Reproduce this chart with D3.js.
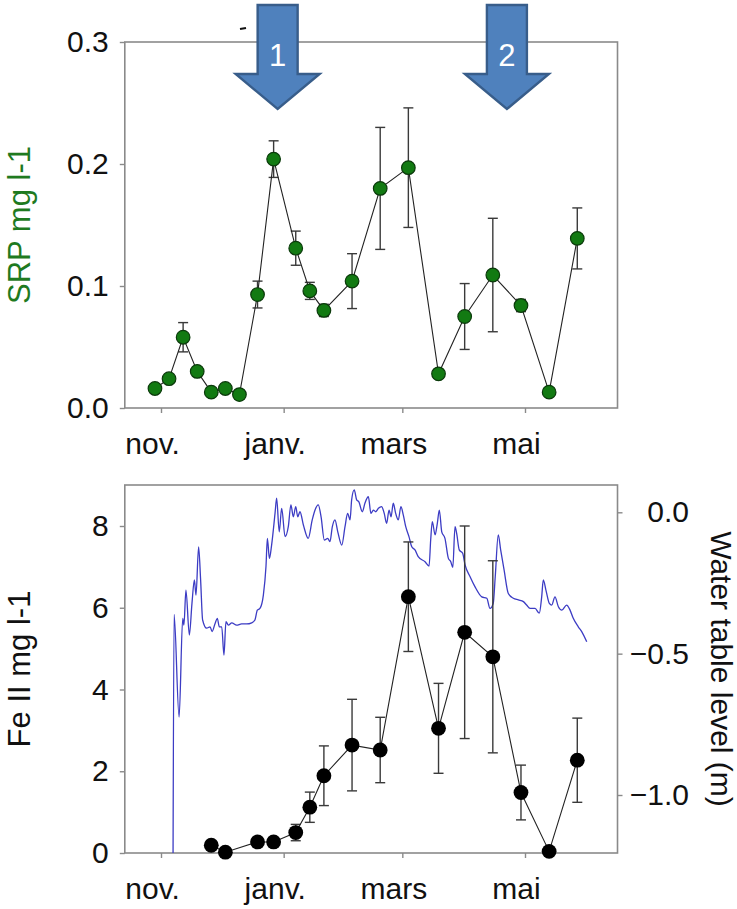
<!DOCTYPE html>
<html>
<head>
<meta charset="utf-8">
<script src="https://cdn.jsdelivr.net/npm/d3@7"></script>
<style>
  body { margin: 0; background: #fff; }
  #chart text { font-family: "Liberation Sans", Arial, sans-serif; }
</style>
</head>
<body>
<div id="chart"></div>
<script>
// SRP (top panel)
const srpDates = ['2010-10-29', '2010-11-05', '2010-11-12', '2010-11-19', '2010-11-26', '2010-12-03',
  '2010-12-10', '2010-12-19', '2010-12-27', '2011-01-07', '2011-01-14', '2011-01-21', '2011-02-04',
  '2011-02-18', '2011-03-04', '2011-03-19', '2011-04-01', '2011-04-15', '2011-04-29', '2011-05-13',
  '2011-05-27'];
const srpValues = [0.016, 0.024, 0.058, 0.030, 0.013, 0.016, 0.011, 0.093, 0.204, 0.131, 0.096,
  0.080, 0.104, 0.180, 0.197, 0.028, 0.075, 0.109, 0.084, 0.013, 0.139];
const srpErrors = [0.002, 0.003, 0.012, 0.003, 0.002, 0.003, 0.002, 0.011, 0.015, 0.014, 0.007,
  0.005, 0.0225, 0.050, 0.049, 0.002, 0.027, 0.0465, 0.005, 0.002, 0.025];

// Fe II (bottom panel)
const feDates = ['2010-11-26', '2010-12-03', '2010-12-19', '2010-12-27', '2011-01-07', '2011-01-14',
  '2011-01-21', '2011-02-04', '2011-02-18', '2011-03-04', '2011-03-19', '2011-04-01', '2011-04-15',
  '2011-04-29', '2011-05-13', '2011-05-27'];
const feValues = [0.19, 0.02, 0.27, 0.27, 0.50, 1.12, 1.89, 2.64, 2.52, 6.27, 3.05, 5.40, 4.80,
  1.48, 0.04, 2.27];
const feErrors = [0.05, 0.05, 0.05, 0.05, 0.20, 0.37, 0.73, 1.12, 0.80, 1.34, 1.10, 2.60, 2.35,
  0.67, 0.05, 1.03];

// water table level (m), days counted from 1 Nov 2010
const waterDays = [6.0, 6.5, 9.0, 10.8, 11.4, 12.4, 14.1, 15.4, 16.6, 17.4, 18.7, 19.7, 20.7, 22.7,
  24.4, 25.4, 26.9, 28.0, 29.0, 30.2, 31.3, 32.3, 33.5, 35.2, 37.6, 40.1, 42.6, 45.1, 46.7, 47.9,
  49.2, 50.9, 52.2, 52.9, 53.9, 55.0, 56.7, 57.5, 58.8, 60.0, 61.7, 63.3, 64.6, 65.8, 67.0, 68.0,
  69.1, 70.8, 73.2, 75.2, 76.6, 78.2, 79.6, 81.2, 82.9, 84.0, 85.2, 86.5, 87.9, 89.9, 91.5, 92.8,
  94.0, 94.8, 96.1, 97.3, 98.4, 100.1, 101.4, 103.1, 104.4, 105.6, 106.8, 108.1, 109.7, 111.0,
  112.2, 113.4, 114.4, 115.5, 116.7, 118.0, 119.3, 120.5, 121.7, 123.3, 124.7, 126.3, 127.9,
  131.3, 133.3, 134.1, 134.9, 136.3, 137.4, 138.4, 139.6, 141.2, 142.9, 144.1, 145.1, 146.2,
  147.0, 148.3, 150.0, 151.2, 153.7, 156.1, 159.5, 162.0, 163.6, 165.2, 166.2, 167.7, 168.9,
  170.6, 172.7, 175.2, 177.7, 180.2, 181.8, 183.5, 186.0, 188.1, 189.3, 190.1, 191.4, 193.1,
  194.3, 195.9, 197.6, 199.3, 201.7, 203.4, 205.0, 207.5, 209.2, 211.7];
const waterLevels = [-1.21, -0.361, -0.724, -0.375, -0.399, -0.275, -0.434, -0.322, -0.239, -0.293,
  -0.122, -0.239, -0.381, -0.410, -0.405, -0.422, -0.393, -0.375, -0.405, -0.405, -0.505, -0.387,
  -0.399, -0.391, -0.399, -0.395, -0.395, -0.391, -0.381, -0.346, -0.340, -0.293, -0.192, -0.092,
  -0.163, -0.116, -0.004, 0.050, -0.069, 0.014, -0.086, -0.051, 0.026, -0.016, 0.020, -0.016,
  0.002, -0.045, -0.092, -0.027, 0.008, 0.026, -0.016, -0.098, -0.092, -0.104, -0.051, -0.027,
  -0.069, -0.116, -0.051, -0.004, -0.027, 0.044, 0.079, 0.044, 0.037, 0.002, 0.032, 0.055,
  -0.004, 0.008, 0.002, 0.014, 0.020, -0.004, -0.039, 0.008, -0.016, 0.032, -0.004, -0.027,
  0.020, -0.010, -0.051, -0.086, -0.122, -0.133, -0.157, -0.175, -0.190, -0.098, -0.033, -0.080,
  -0.039, 0.008, -0.069, -0.092, -0.163, -0.175, -0.195, -0.051, -0.074, -0.133, -0.145, -0.186,
  -0.228, -0.263, -0.299, -0.304, -0.340, -0.322, -0.228, -0.080, -0.133, -0.204, -0.287, -0.304,
  -0.310, -0.316, -0.328, -0.340, -0.340, -0.357, -0.299, -0.239, -0.275, -0.322, -0.328, -0.299,
  -0.334, -0.346, -0.328, -0.346, -0.375, -0.405, -0.422, -0.458];

// axes
const monthTicks = ['2010-11-01', '2011-01-01', '2011-03-01', '2011-05-01'];
const monthLabels = ['nov.', 'janv.', 'mars', 'mai'];
const srpTicks = [0, 0.1, 0.2, 0.3];
const feTicks = [0, 2, 4, 6, 8];
const waterTicks = [0, -0.5, -1.0];

// annotation arrows
const arrowDates = ['2010-12-29', '2011-04-22'];
const arrowLabels = ['1', '2'];

const Chart = {};

Chart.config = function config() {
  const vm = this;
  vm.width = 737;
  vm.height = 909;
  vm.parse = d3.utcParse('%Y-%m-%d');
  vm.frameDates = [vm.parse('2010-10-14'), vm.parse('2011-06-16')];
  vm.top = { y0: 42, y1: 408 };
  vm.bottom = { y0: 485, y1: 853 };
  vm.grey = '#8a8a8a';
  vm.font = 30;
  vm.scales();
};

Chart.scales = function scales() {
  const vm = this;
  vm.x = d3.scaleUtc()
    .domain([vm.parse('2010-11-01'), vm.parse('2011-05-01')])
    .range([161, 525]);
  vm.ySrp = d3.scaleLinear().domain([0, 0.3]).range([408, 42]);
  vm.yFe = d3.scaleLinear().domain([0, 8]).range([853, 526]);
  vm.yWater = d3.scaleLinear().domain([-1, 0]).range([795, 512.3]);
};

Chart.frame = function frame(svg, p) {
  const vm = this;
  const x0 = vm.x(vm.frameDates[0]);
  const x1 = vm.x(vm.frameDates[1]);
  svg.append('rect')
    .attr('x', x0).attr('y', p.y0)
    .attr('width', x1 - x0).attr('height', p.y1 - p.y0)
    .attr('fill', 'none')
    .attr('stroke', vm.grey)
    .attr('stroke-width', 1.6);
};

Chart.styleAxis = function styleAxis(g) {
  const vm = this;
  g.select('.domain').remove();
  g.selectAll('.tick line').attr('stroke', vm.grey).attr('stroke-width', 1.4);
  g.selectAll('.tick text')
    .attr('fill', '#111')
    .style('font-size', `${vm.font}px`);
};

Chart.xAxis = function xAxis(svg, p) {
  const vm = this;
  const g = svg.append('g')
    .attr('transform', `translate(0,${p.y1})`)
    .call(d3.axisBottom(vm.x)
      .tickValues(monthTicks.map(vm.parse))
      .tickFormat((d, i) => monthLabels[i])
      .tickSize(5)
      .tickPadding(20));
  vm.styleAxis(g);
  g.selectAll('.tick text').attr('dx', -9);
};

Chart.errorBars = function errorBars(svg, pts, y, color) {
  svg.append('g').selectAll('g')
    .data(pts)
    .enter().append('g')
    .each(function (d) {
      const g = d3.select(this);
      const xx = d.x;
      const yt = y(d.v + d.e);
      const yb = y(d.v - d.e);
      g.append('line').attr('x1', xx).attr('x2', xx).attr('y1', yt).attr('y2', yb);
      g.append('line').attr('x1', xx - 5).attr('x2', xx + 5).attr('y1', yt).attr('y2', yt);
      g.append('line').attr('x1', xx - 5).attr('x2', xx + 5).attr('y1', yb).attr('y2', yb);
    })
    .attr('stroke', color)
    .attr('stroke-width', 1.4);
};

Chart.drawTop = function drawTop(svg) {
  const vm = this;
  const pts = srpDates.map((d, i) => ({ x: vm.x(vm.parse(d)), v: srpValues[i], e: srpErrors[i] }));

  vm.frame(svg, vm.top);

  const gy = svg.append('g')
    .attr('transform', `translate(${vm.x(vm.frameDates[0])},0)`)
    .call(d3.axisLeft(vm.ySrp).tickValues(srpTicks).tickFormat(d3.format('.1f'))
      .tickSize(5).tickPadding(11));
  vm.styleAxis(gy);
  vm.xAxis(svg, vm.top);

  vm.errorBars(svg, pts, vm.ySrp, '#3a3a3a');

  svg.append('path')
    .datum(pts)
    .attr('fill', 'none')
    .attr('stroke', '#222')
    .attr('stroke-width', 1.1)
    .attr('d', d3.line().x(d => d.x).y(d => vm.ySrp(d.v)));

  svg.append('g').selectAll('circle')
    .data(pts)
    .enter().append('circle')
    .attr('cx', d => d.x)
    .attr('cy', d => vm.ySrp(d.v))
    .attr('r', 6.8)
    .attr('fill', '#127a12')
    .attr('stroke', '#0b3a0b')
    .attr('stroke-width', 1.2);

  svg.append('text')
    .attr('transform', `translate(30,${(vm.top.y0 + vm.top.y1) / 2}) rotate(-90)`)
    .attr('text-anchor', 'middle')
    .attr('fill', '#1f7a1f')
    .style('font-size', '31px')
    .text('SRP mg l-1');

  // small leftover mark above the frame
  svg.append('line')
    .attr('x1', 240).attr('x2', 246)
    .attr('y1', 29).attr('y2', 28)
    .attr('stroke', '#111')
    .attr('stroke-width', 2);
};

Chart.drawArrows = function drawArrows(svg) {
  const vm = this;
  const g = svg.append('g').selectAll('g')
    .data(arrowDates)
    .enter().append('g')
    .attr('transform', d => `translate(${vm.x(vm.parse(d))},0)`);

  g.append('path')
    .attr('d', 'M-20,5 L20,5 L20,74 L42,74 L0,109 L-42,74 L-20,74 Z')
    .attr('fill', '#4f81bd')
    .attr('stroke', '#385d8a')
    .attr('stroke-width', 2.4)
    .attr('stroke-linejoin', 'miter');

  g.append('text')
    .attr('x', 0)
    .attr('y', 66)
    .attr('text-anchor', 'middle')
    .attr('fill', '#fff')
    .style('font-size', '31px')
    .text((d, i) => arrowLabels[i]);
};

Chart.drawBottom = function drawBottom(svg) {
  const vm = this;
  const base = vm.parse('2010-11-01').getTime();
  const water = waterDays.map((d, i) => ({ t: new Date(base + d * 864e5), v: waterLevels[i] }));
  const pts = feDates.map((d, i) => ({ x: vm.x(vm.parse(d)), v: feValues[i], e: feErrors[i] }));
  const x1 = vm.x(vm.frameDates[1]);

  vm.frame(svg, vm.bottom);

  const gy = svg.append('g')
    .attr('transform', `translate(${vm.x(vm.frameDates[0])},0)`)
    .call(d3.axisLeft(vm.yFe).tickValues(feTicks).tickSize(5).tickPadding(11));
  vm.styleAxis(gy);

  const gr = svg.append('g')
    .attr('transform', `translate(${x1},0)`)
    .call(d3.axisRight(vm.yWater).tickValues(waterTicks).tickFormat(d3.format('.1f'))
      .tickSize(5).tickPadding(11));
  vm.styleAxis(gr);
  gr.selectAll('.tick text').attr('text-anchor', 'end').attr('x', 689 - x1);

  vm.xAxis(svg, vm.bottom);

  svg.append('path')
    .datum(water)
    .attr('fill', 'none')
    .attr('stroke', '#3c3cc4')
    .attr('stroke-width', 1.3)
    .attr('stroke-linejoin', 'round')
    .attr('d', d3.line().curve(d3.curveMonotoneX)
      .x(d => vm.x(d.t)).y(d => Math.min(vm.yWater(d.v), vm.bottom.y1)));

  vm.errorBars(svg, pts, vm.yFe, '#3a3a3a');

  svg.append('path')
    .datum(pts)
    .attr('fill', 'none')
    .attr('stroke', '#222')
    .attr('stroke-width', 1.1)
    .attr('d', d3.line().x(d => d.x).y(d => vm.yFe(d.v)));

  svg.append('g').selectAll('circle')
    .data(pts)
    .enter().append('circle')
    .attr('cx', d => d.x)
    .attr('cy', d => vm.yFe(d.v))
    .attr('r', 7.4)
    .attr('fill', '#000');

  svg.append('text')
    .attr('transform', `translate(30,${(vm.bottom.y0 + vm.bottom.y1) / 2}) rotate(-90)`)
    .attr('text-anchor', 'middle')
    .attr('fill', '#111')
    .style('font-size', '31px')
    .text('Fe II mg l-1');

  svg.append('text')
    .attr('transform', `translate(711,${(vm.bottom.y0 + vm.bottom.y1) / 2}) rotate(90)`)
    .attr('text-anchor', 'middle')
    .attr('fill', '#111')
    .style('font-size', '30px')
    .text('Water table level (m)');
};

Chart.draw = function draw() {
  const vm = this;
  const svg = d3.select('#chart').append('svg')
    .attr('width', vm.width)
    .attr('height', vm.height);

  vm.drawTop(svg);
  vm.drawBottom(svg);
  vm.drawArrows(svg);
  return vm;
};

Chart.config();
Chart.draw();
</script>
</body>
</html>
